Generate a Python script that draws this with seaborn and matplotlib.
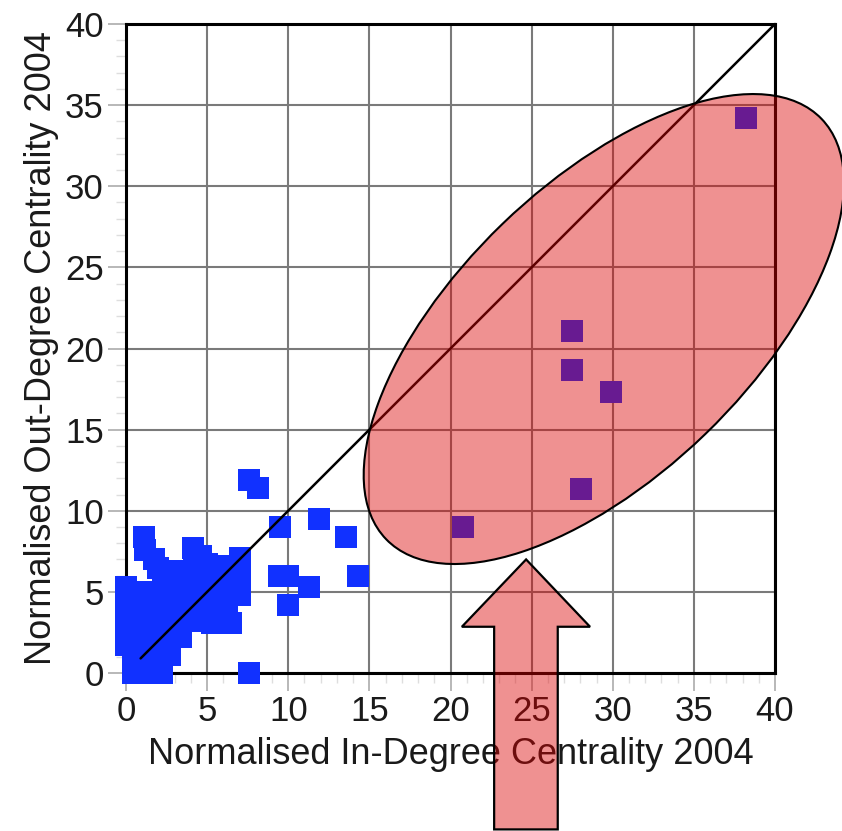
import matplotlib
matplotlib.use("Agg")
import matplotlib.pyplot as plt
import seaborn as sns
import numpy as np
import pandas as pd
from matplotlib.patches import Ellipse, Polygon
from matplotlib.ticker import MultipleLocator

# ---- data ----
in_degree = [
    # isolated points
    7.6, 8.15, 9.5, 11.9, 13.55, 14.3, 9.45, 10.0, 11.3, 10.0, 7.6,
    # dense cluster
    0.0, 0.0, 0.0, 0.0, 0.0, 0.0,
    0.45, 0.45, 1.3, 2.2, 1.3, 2.2, 2.7,
    1.0, 1.8, 2.6, 3.4, 1.0, 2.0, 3.0,
    0.9, 1.8, 2.7, 3.6, 4.5, 5.3, 6.0, 6.5,
    0.9, 1.8, 2.7, 3.6, 4.5, 5.4, 6.2, 7.05,
    1.0, 1.8, 2.7, 3.6, 4.5, 5.4, 6.3,
    2.3, 3.1, 3.9, 4.7, 5.4, 6.6, 7.05,
    1.1, 1.2, 1.75, 2.0, 4.15, 4.65, 5.0, 5.8, 7.05, 4.2, 3.3,
    # high-centrality group
    38.2, 27.5, 27.5, 29.9, 28.05, 20.75,
]
out_degree = [
    11.9, 11.4, 9.0, 9.5, 8.4, 6.0, 6.0, 6.0, 5.3, 4.2, 0.0,
    5.3, 4.5, 3.7, 2.9, 2.1, 1.7,
    0.0, 0.9, 0.0, 0.0, 0.9, 0.8, 1.1,
    1.8, 1.8, 2.0, 2.2, 2.6, 2.6, 2.7,
    3.4, 3.4, 3.4, 3.6, 3.2, 3.1, 3.1, 3.1,
    4.2, 4.2, 4.2, 4.3, 4.2, 4.3, 4.3, 4.8,
    5.0, 5.0, 5.1, 5.0, 5.0, 5.0, 5.0,
    6.0, 5.8, 6.0, 6.0, 6.1, 6.1, 6.0,
    8.4, 7.6, 7.0, 6.5, 7.7, 7.2, 6.7, 6.6, 7.1, 6.8, 6.3,
    34.2, 21.05, 18.65, 17.3, 11.35, 8.97,
]
diag_x = [0.9, 40.0]
diag_y = [0.9, 40.0]
ticks = [0, 5, 10, 15, 20, 25, 30, 35, 40]
x_label = "Normalised In-Degree Centrality 2004"
y_label = "Normalised Out-Degree Centrality 2004"

df = pd.DataFrame({"in": in_degree, "out": out_degree})

sns.set_style("ticks")
plt.rcParams["font.family"] = ["Liberation Sans", "DejaVu Sans"]

W, H = 842, 831
fig = plt.figure(figsize=(W / 100, H / 100), dpi=100)
ax = fig.add_axes([126 / W, 1 - 673 / H, (775 - 126) / W, (673 - 24) / H])

sns.scatterplot(data=df, x="in", y="out", marker="s", s=235, color="#1131FF",
                linewidth=0, ax=ax, clip_on=False, zorder=3, legend=False)
ax.plot(diag_x, diag_y, color="black", lw=1.8, zorder=4, clip_on=False)

ax.set_xlim(0, 40)
ax.set_ylim(0, 40)
ax.set_xticks(ticks)
ax.set_yticks(ticks)
ax.xaxis.set_minor_locator(MultipleLocator(1))
ax.yaxis.set_minor_locator(MultipleLocator(1))
ax.grid(True, which="major", color="#7a7a7a", lw=1.5)
ax.set_axisbelow(True)
for s in ax.spines.values():
    s.set_color("black")
    s.set_linewidth(2.2)
ax.tick_params(which="major", direction="out", length=13, width=1.4,
               color="#b8b8b8", labelsize=25, labelcolor="#1a1a1a", pad=3)
ax.tick_params(which="minor", direction="out", length=7, width=1.0,
               color="#dedede")
ax.set_xlabel(x_label, fontsize=26, color="#1a1a1a", labelpad=6)
ax.set_ylabel(y_label, fontsize=26, color="#1a1a1a", labelpad=4)

# highlighted ellipse
ell = Ellipse((29.45, 21.2), width=37.3, height=18.0, angle=44,
              facecolor=(0.863, 0.0, 0.0, 0.43), edgecolor="black",
              lw=1.5, zorder=6, clip_on=False)
ax.add_patch(ell)

# block arrow pointing at the ellipse
arrow_pts = [(24.66, 7.0), (28.6, 2.85), (26.61, 2.85), (26.61, -9.64),
             (22.69, -9.64), (22.69, 2.85), (20.7, 2.85)]
arr = Polygon(arrow_pts, closed=True, facecolor=(0.863, 0.0, 0.0, 0.43),
              edgecolor="black", lw=1.6, zorder=10, clip_on=False)
ax.add_patch(arr)

fig.savefig("out.png", dpi=100)
